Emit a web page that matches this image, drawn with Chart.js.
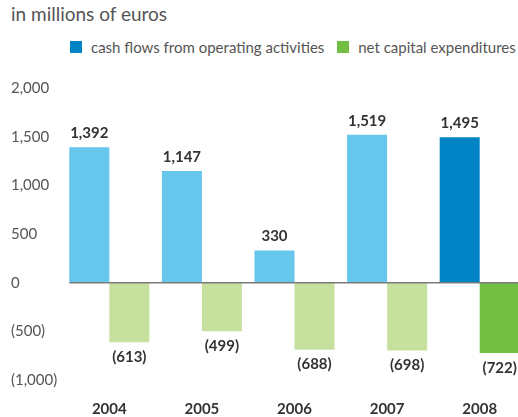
<!DOCTYPE html>
<html>
<head>
<meta charset="utf-8">
<script src="https://cdn.jsdelivr.net/npm/chart.js@4.4.1/dist/chart.umd.min.js"></script>
<style>
  body { margin: 0; background: #fff; overflow: hidden; }
  #wrap { position: relative; width: 518px; height: 417px; overflow: hidden; font-family: Lato, sans-serif; }
  #sub { position: absolute; left: 11px; top: 2px; font-size: 19px; color: #555; }
  #legend { position: absolute; left: 70px; top: 38px; font-size: 15px; color: #555; white-space: nowrap; }
  .item { display: inline-flex; align-items: center; margin-right: 9px; }
  .box { width: 12px; height: 12px; margin-right: 9px; display: inline-block; }
  canvas { position: absolute; left: 0; top: 0; }
</style>
</head>
<body>
<div id="wrap">
  <div id="sub">in millions of euros</div>
  <div id="legend">
    <span class="item"><span class="box" style="background:#0084c6"></span>cash flows from operating activities</span>
    <span class="item"><span class="box" style="background:#72bf44"></span>net capital expenditures</span>
  </div>
  <canvas id="chart" width="526" height="417"></canvas>
</div>
<script>
const years = ['2004', '2005', '2006', '2007', '2008']
const cashFlows = [1392, 1147, 330, 1519, 1495]
const capex = [-613, -499, -688, -698, -722]
const yTicks = [-1000, -500, 0, 500, 1000, 1500, 2000]

const fmt = v => {
  const s = Math.abs(v).toLocaleString('en-US')
  return v < 0 ? '(' + s + ')' : s
}

// latest year is highlighted with the darker shade
const blue = years.map((y, i) => i === years.length - 1 ? '#0084c6' : '#66c6ec')
const green = years.map((y, i) => i === years.length - 1 ? '#72bf44' : '#c6e09e')

const extras = {
  id: 'extras',
  afterDatasetsDraw(chart) {
    const { ctx, chartArea, scales: { y } } = chart
    const zero = y.getPixelForValue(0)
    const first = chart.getDatasetMeta(0).data[0]
    ctx.save()
    ctx.strokeStyle = '#7a7a7a'
    ctx.lineWidth = 1.5
    ctx.beginPath()
    ctx.moveTo(first.x - first.width / 2, zero)
    ctx.lineTo(chartArea.right, zero)
    ctx.stroke()

    ctx.font = 'bold 15px Lato'
    ctx.fillStyle = '#333'
    ctx.textAlign = 'center'
    ctx.textBaseline = 'middle'
    chart.data.datasets.forEach((ds, di) => {
      chart.getDatasetMeta(di).data.forEach((bar, i) => {
        const v = ds.data[i]
        const yPos = v >= 0 ? bar.y - 14 : bar.y + 15
        ctx.fillText(fmt(v), bar.x, yPos)
      })
    })
    ctx.restore()
  }
}

new Chart(document.getElementById('chart'), {
  type: 'bar',
  data: {
    labels: years,
    datasets: [
      { label: 'cash flows from operating activities', data: cashFlows, backgroundColor: blue },
      { label: 'net capital expenditures', data: capex, backgroundColor: green }
    ]
  },
  options: {
    responsive: false,
    animation: false,
    categoryPercentage: 0.864,
    barPercentage: 1.0,
    layout: { padding: { left: 11, top: 88, right: 0, bottom: 0 } },
    plugins: {
      legend: { display: false },
      tooltip: { enabled: false }
    },
    scales: {
      x: {
        offset: true,
        grid: { display: false },
        border: { display: false },
        ticks: { color: '#333', font: { family: 'Lato', size: 15, weight: 'bold' }, padding: 12 },
        afterFit: s => { s.height = 37 }
      },
      y: {
        min: yTicks[0],
        max: yTicks[yTicks.length - 1],
        grid: { display: false },
        border: { display: false },
        ticks: {
          stepSize: 500,
          crossAlign: 'far',
          color: '#555',
          font: { family: 'Lato', size: 15 },
          callback: v => fmt(v)
        },
        afterFit: s => { s.width = 52 }
      }
    }
  },
  plugins: [extras]
})
</script>
</body>
</html>
